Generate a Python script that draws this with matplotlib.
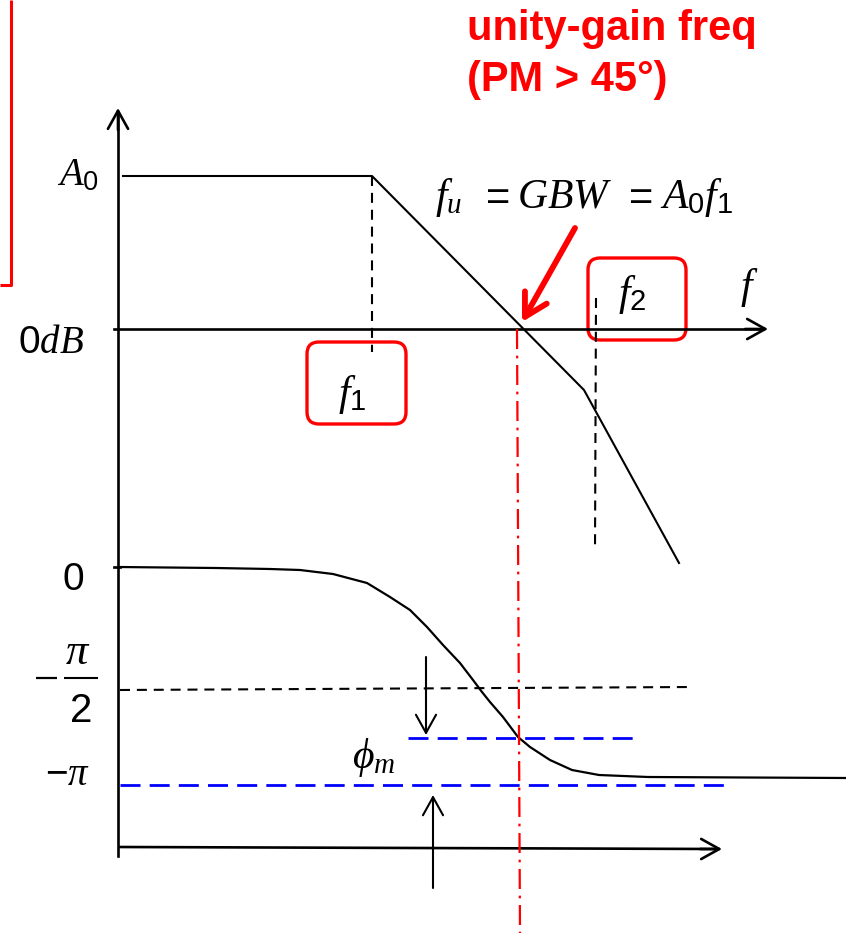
import matplotlib
matplotlib.use("Agg")
import matplotlib.pyplot as plt
from matplotlib.patches import FancyBboxPatch

# Schematic coordinates (pixel-like, y grows downward)
GAIN_X = [123, 372, 584, 679]
GAIN_Y = [176, 176, 390, 563]

PHASE_X = [118, 216, 270, 300, 333, 367, 390, 410, 427, 443, 460, 473, 482,
           490, 503, 518, 530, 550, 572, 599, 648, 846]
PHASE_Y = [567, 568, 569, 570, 574, 583, 597, 610, 627, 645, 663, 680, 692,
           702, 717, 737, 747, 760, 770, 775, 777, 778]

F1_X = 372
F2_X = 596
FU_X = [517, 520]
ZERO_DB_Y = 329
A0_Y = 176
HALF_PI_Y = [690, 687]
PM_Y = 738
PI_Y = 785

plt.rcParams["mathtext.fontset"] = "custom"
plt.rcParams["mathtext.rm"] = "Liberation Sans"
plt.rcParams["mathtext.it"] = "Liberation Serif:italic"
plt.rcParams["mathtext.bf"] = "Liberation Sans:bold"
plt.rcParams["font.family"] = ["Liberation Sans", "DejaVu Sans"]

RED = "#FF0000"
BLUE = "#0000FF"

fig = plt.figure(figsize=(8.46, 9.33), dpi=100)
ax = fig.add_axes([0, 0, 1, 1])
ax.set_xlim(0, 846)
ax.set_ylim(933, 0)
ax.axis("off")


def arrow(tail, tip, lw=1.8, color="black", hl=0.9, hw=0.5, ms=14.5):
    ax.annotate("", xy=tip, xytext=tail,
                arrowprops=dict(arrowstyle=f"->,head_length={hl},head_width={hw}",
                                lw=lw, color=color, shrinkA=0, shrinkB=0,
                                mutation_scale=ms))


# --- partial red frame in the upper-left corner
ax.plot([11, 11, 0], [0, 285, 285], color=RED, lw=2.2, solid_capstyle="butt")

# --- axes
ax.plot([118, 118], [115, 856], color="black", lw=1.9)
arrow((118, 130), (118, 108), lw=1.9)
ax.plot([114, 762], [ZERO_DB_Y, ZERO_DB_Y], color="black", lw=1.9)
arrow((745, ZERO_DB_Y), (768, ZERO_DB_Y), lw=1.9)
ax.plot([114, 120], [PHASE_Y[0], PHASE_Y[0]], color="black", lw=1.9)
ax.plot([120, 716], [847, 849], color="black", lw=1.9)
arrow((700, 849), (722, 849), lw=1.9)

# --- gain asymptotes
ax.plot(GAIN_X, GAIN_Y, color="black", lw=1.5)
ax.plot([F1_X, F1_X], [A0_Y, 352], color="black", lw=1.5, ls=(0, (4.8, 3.3)))
ax.plot([F2_X, F2_X - 1], [298, 550], color="black", lw=1.5, ls=(0, (4.8, 3.3)))

# --- phase curve and reference levels
ax.plot(PHASE_X, PHASE_Y, color="black", lw=1.6, solid_joinstyle="round")
ax.plot([120, 693], HALF_PI_Y, color="black", lw=1.5, ls=(0, (4.8, 3.3)))
ax.plot([408, 633], [PM_Y, PM_Y], color=BLUE, lw=2.0, ls=(0, (7.2, 3.3)))
ax.plot([120, 730], [PI_Y, PI_Y], color=BLUE, lw=2.0, ls=(0, (7.2, 3.3)))

# phase margin arrows
arrow((426, 657), (426, 735), lw=1.5)
arrow((433, 888), (433, 795), lw=1.5)

# --- unity-gain frequency marker
ax.plot(FU_X, [ZERO_DB_Y, 933], color=RED, lw=1.6, ls=(0, (9, 3, 1.2, 3)))
arrow((575, 228), (522, 322), lw=4.2, color=RED, hl=0.8, hw=0.45, ms=20)

# --- red rounded boxes around break frequencies
for (x0, y0, x1, y1) in [(588, 258, 686, 340), (307, 342, 406, 424)]:
    ax.add_patch(FancyBboxPatch((x0, y0), x1 - x0, y1 - y0,
                                boxstyle="round,pad=0,rounding_size=12",
                                fill=False, edgecolor=RED, lw=2.4))

# --- labels
ax.text(467, 40, "unity-gain freq", color=RED, fontsize=30, fontweight="bold",
        ha="left", va="baseline")
ax.text(467, 91, "(PM > 45°)", color=RED, fontsize=30, fontweight="bold",
        ha="left", va="baseline")

# f_u = GBW = A0 f1, laid out piece by piece
ax.text(435, 208, r"$f_u$", fontsize=30, ha="left", va="baseline")
ax.text(494, 208, r"$=$", fontsize=30, ha="center", va="baseline")
ax.text(517, 208, r"$GBW$", fontsize=30, ha="left", va="baseline")
ax.text(637, 208, r"$=$", fontsize=30, ha="center", va="baseline")
ax.text(660, 208, r"$A_0 f_1$", fontsize=30, ha="left", va="baseline")

ax.text(99, 185, r"$A_0$", fontsize=28, ha="right", va="baseline")
ax.text(84, 353, r"$0dB$", fontsize=28, ha="right", va="baseline")
ax.text(749, 298, r"$f$", fontsize=30, ha="center", va="baseline")
ax.text(632, 305, r"$f_2$", fontsize=30, ha="center", va="baseline")
ax.text(352, 405, r"$f_1$", fontsize=30, ha="center", va="baseline")

ax.text(84, 590, r"$0$", fontsize=28, ha="right", va="baseline")

# -pi/2 written as a stacked fraction
ax.plot([36, 57], [678, 678], color="black", lw=1.6, solid_capstyle="butt")
ax.plot([64, 98], [678, 678], color="black", lw=1.5, solid_capstyle="butt")
ax.text(78, 664, r"$\pi$", fontsize=32, ha="center", va="baseline")
ax.text(81, 722, "2", fontsize=29, ha="center", va="baseline")

ax.text(90, 785, r"$-\pi$", fontsize=28, ha="right", va="baseline")
ax.text(352, 768, r"$\phi_m$", fontsize=30, ha="left", va="baseline")

fig.savefig("out.png", dpi=100, facecolor="white")
